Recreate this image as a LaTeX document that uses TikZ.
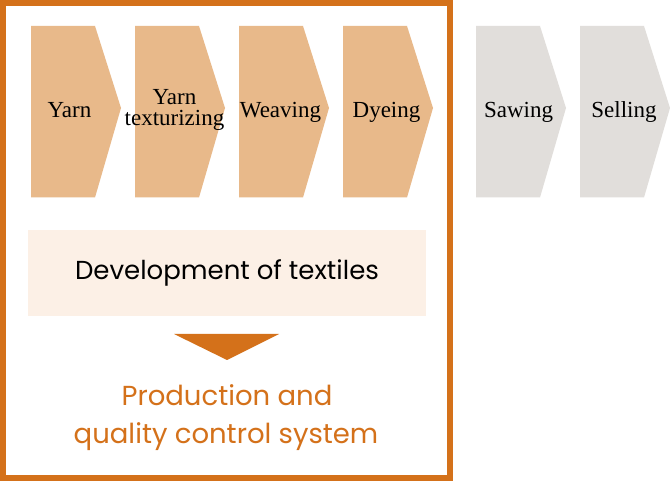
\documentclass[tikz,border=0pt]{standalone}
\usepackage{fontspec}
\setmainfont{Liberation Serif}
\newfontfamily\sansf{Poppins}
\definecolor{frameor}{HTML}{D4711A}
\definecolor{chevor}{HTML}{E8B98A}
\definecolor{chevgr}{HTML}{E1DEDB}
\definecolor{devbg}{HTML}{FCF0E6}
\tikzset{
  chevlabel/.style={font=\fontsize{23}{21}\selectfont, text=black, align=center, inner sep=0pt},
  bottomtext/.style={font=\sansf\fontsize{27.5}{30}\selectfont, text=frameor, inner sep=0pt, anchor=base},
}
\newcommand{\chev}[3]{% x0, colour, name
  \fill[#2] (#1,26) -- (#1+64,26) -- (#1+90,108) -- (#1+64,197.5) -- (#1,197.5) -- cycle;
  \coordinate (#3) at (#1+45,118);
}
\begin{document}
\begin{tikzpicture}[x=1pt,y=-1pt]
\useasboundingbox (0,0) rectangle (670,481);
\fill[white] (0,0) rectangle (670,481);
% chevrons
\chev{31}{chevor}{c1}
\chev{135}{chevor}{c2}
\chev{239}{chevor}{c3}
\chev{343}{chevor}{c4}
\chev{476}{chevgr}{c5}
\chev{580}{chevgr}{c6}
\node[chevlabel, anchor=base] (t1) at ([xshift=-6.5pt]c1) {Yarn};
\node[chevlabel] (t2) at ([xshift=-5.5pt,yshift=8pt]c2) {Yarn\\texturizing};
\node[chevlabel, anchor=base] (t3) at ([xshift=-3.5pt]c3) {Weaving};
\node[chevlabel, anchor=base] (t4) at ([xshift=-1.5pt]c4) {Dyeing};
\node[chevlabel, anchor=base] (t5) at ([xshift=-2.5pt]c5) {Sawing};
\node[chevlabel, anchor=base] (t6) at ([xshift=-1pt]c6) {Selling};
% frame
\draw[frameor, line width=6pt] (3,3) rectangle (450,478);
% development box
\node[fill=devbg, minimum width=398pt, minimum height=86pt, inner sep=0pt,
      font=\sansf\fontsize{26}{28}\selectfont, text=black] (dev) at (227,273) {Development of textiles};
% triangle
\coordinate (tl) at (174,334);
\coordinate (tr) at (279,334);
\coordinate (tb) at (227,360);
\fill[frameor] (tl) -- (tr) -- (tb) -- cycle;
% bottom text
\node[bottomtext] (prod1) at (227,406) {Production and};
\node[bottomtext] (prod2) at (226,443) {quality control system};
\end{tikzpicture}
\end{document}
